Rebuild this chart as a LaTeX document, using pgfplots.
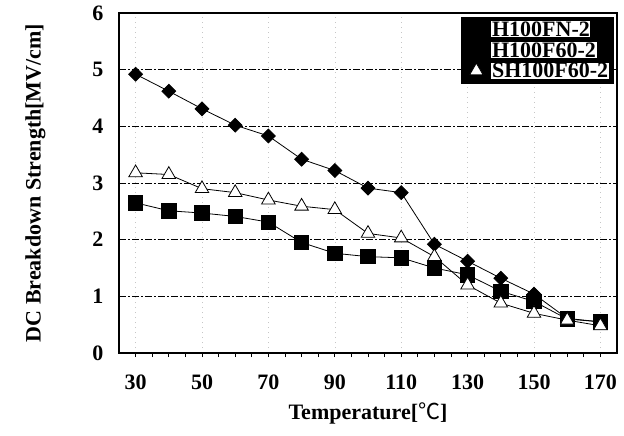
\documentclass[border=0pt]{standalone}
\usepackage{pgfplots}
\pgfplotsset{compat=1.18}
\usepackage{fontspec}
\setmainfont{Liberation Serif}
\newfontfamily\cjk{Noto Sans CJK SC}
\setlength\fboxsep{0.6bp}
\begin{document}
\begin{tikzpicture}
\begin{axis}[
  name=ax,
  scale only axis, width=498bp, height=340bp,
  xmin=25, xmax=175, ymin=0, ymax=6,
  xtick={30,50,...,170}, minor x tick num=3,
  ytick={0,1,...,6},
  xtick pos=bottom, ytick pos=left,
  tick align=outside,
  major tick length=4bp, minor tick length=4bp,
  ytick style={draw=none},
  xtick style={black, line width=0.8bp},
  minor tick style={black, line width=0.8bp},
  ymajorgrids, xmajorgrids,
  y grid style={black, line width=0.6bp, dash pattern=on 7bp off 2bp on 2bp off 2bp},
  x grid style={gray!45, line width=0.5bp, dash pattern=on 1bp off 4bp},
  axis line style={black, line width=1.4bp},
  /pgf/number format/assume math mode=true,
  tick label style={font=\bfseries\fontsize{22bp}{22bp}\selectfont},
  yticklabel style={xshift=-8bp},
  xticklabel style={yshift=-14bp},
  xlabel={Temperature[{\cjk\mdseries ℃}]},
  ylabel={DC Breakdown Strength[MV/cm]},
  label style={font=\bfseries\fontsize{22bp}{22bp}\selectfont},
  xlabel style={at={(axis description cs:0.5,-0.1765)}, anchor=center},
  ylabel style={at={(axis description cs:-0.168,0.5)}, anchor=center},
  legend style={at={(rel axis cs:1,1)}, xshift=-4bp, yshift=-4bp, anchor=north east,
    fill=black, draw=black, inner sep=2bp, row sep=0bp,
    font=\bfseries\fontsize{22bp}{22bp}\selectfont},
  legend image code/.code={\draw[mark repeat=2,mark phase=2] plot coordinates {(0cm,0cm) (0.45cm,0cm) (0.9cm,0cm)};},
  legend cell align=left,
  every axis plot/.append style={black, line width=0.8bp},
]
\addplot[mark=square*, mark size=4.9bp, mark options={rotate=45, fill=black}] coordinates {
(30,4.92) (40,4.62) (50,4.31) (60,4.02) (70,3.83) (80,3.42) (90,3.22) (100,2.91)
(110,2.83) (120,1.92) (130,1.62) (140,1.32) (150,1.04) (160,0.61) (170,0.55)};
\addlegendentry{\colorbox{white}{H100FN-2}}
\addplot[mark=square*, mark size=7.2bp, mark options={fill=black}] coordinates {
(30,2.65) (40,2.51) (50,2.47) (60,2.41) (70,2.31) (80,1.95) (90,1.76) (100,1.70)
(110,1.68) (120,1.50) (130,1.38) (140,1.09) (150,0.91) (160,0.60) (170,0.55)};
\addlegendentry{\colorbox{white}{H100F60-2}}
\addplot[mark=triangle*, mark size=7.8bp, mark options={fill=white}] coordinates {
(30,3.18) (40,3.15) (50,2.90) (60,2.83) (70,2.70) (80,2.59) (90,2.53) (100,2.11)
(110,2.03) (120,1.70) (130,1.20) (140,0.88) (150,0.70) (160,0.58) (170,0.48)};
\addlegendentry{\colorbox{white}{SH100F60-2}}
\end{axis}
\pgfresetboundingbox
\path (ax.south west) ++(-119bp,-83bp) rectangle ++(624bp,436bp);
\end{tikzpicture}
\end{document}
